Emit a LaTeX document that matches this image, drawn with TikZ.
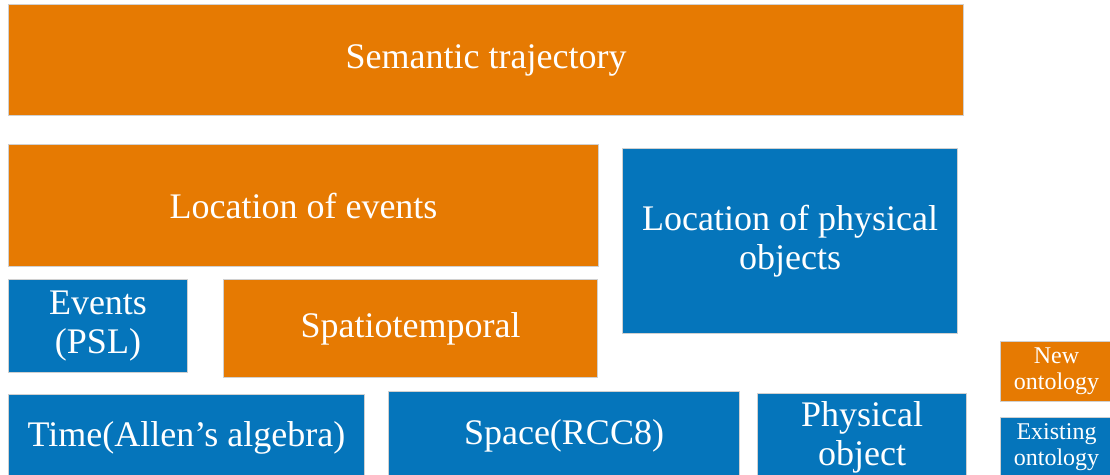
\documentclass[tikz,border=0pt]{standalone}
\usepackage{fontspec}
\setmainfont{Liberation Serif}
\definecolor{neworange}{RGB}{230,122,2}
\definecolor{oldblue}{RGB}{5,117,187}
\definecolor{rim}{RGB}{208,208,208}
\tikzset{
  block/.style={draw=rim, line width=1pt, text=white, align=center,
    anchor=north west, inner sep=0pt, font=\rmfamily\fontsize{36}{39}\selectfont},
  newblock/.style={block, fill=neworange},
  oldblock/.style={block, fill=oldblue},
  keyfont/.style={font=\rmfamily\fontsize{24}{26}\selectfont}
}
\begin{document}
\begin{tikzpicture}[x=1pt, y=-1pt]
      \useasboundingbox (0,0) rectangle (1110,474);
      \clip (0,0) rectangle (1110,474);
      \node [newblock, minimum width=955, minimum height=111] (traj) at (8,4)
        {Semantic trajectory};
      \node [newblock, minimum width=590, minimum height=122] (evloc) at (8,144)
        {Location of events};
      \node [oldblock, minimum width=335, minimum height=185] (objloc) at (622,148)
        {Location of physical\\objects};
      \node [oldblock, minimum width=179, minimum height=93] (events) at (8,279)
        {Events\\(PSL)};
      \node [newblock, minimum width=374, minimum height=98] (spatio) at (223,279)
        {Spatiotemporal};
      \node [oldblock, minimum width=356, minimum height=86] (time) at (8,394)
        {Time(Allen’s algebra)};
      \node [oldblock, minimum width=351, minimum height=89] (space) at (388,391)
        {Space(RCC8)};
      \node [oldblock, minimum width=209, minimum height=87] (phys) at (757,393)
        {Physical\\object};
      \node [newblock, keyfont, minimum width=112, minimum height=60] (newkey) at (1000,341)
        {New\\ontology};
      \node [oldblock, keyfont, minimum width=112, minimum height=59] (oldkey) at (1000,417)
        {Existing\\ontology};
    \end{tikzpicture}
\end{document}
